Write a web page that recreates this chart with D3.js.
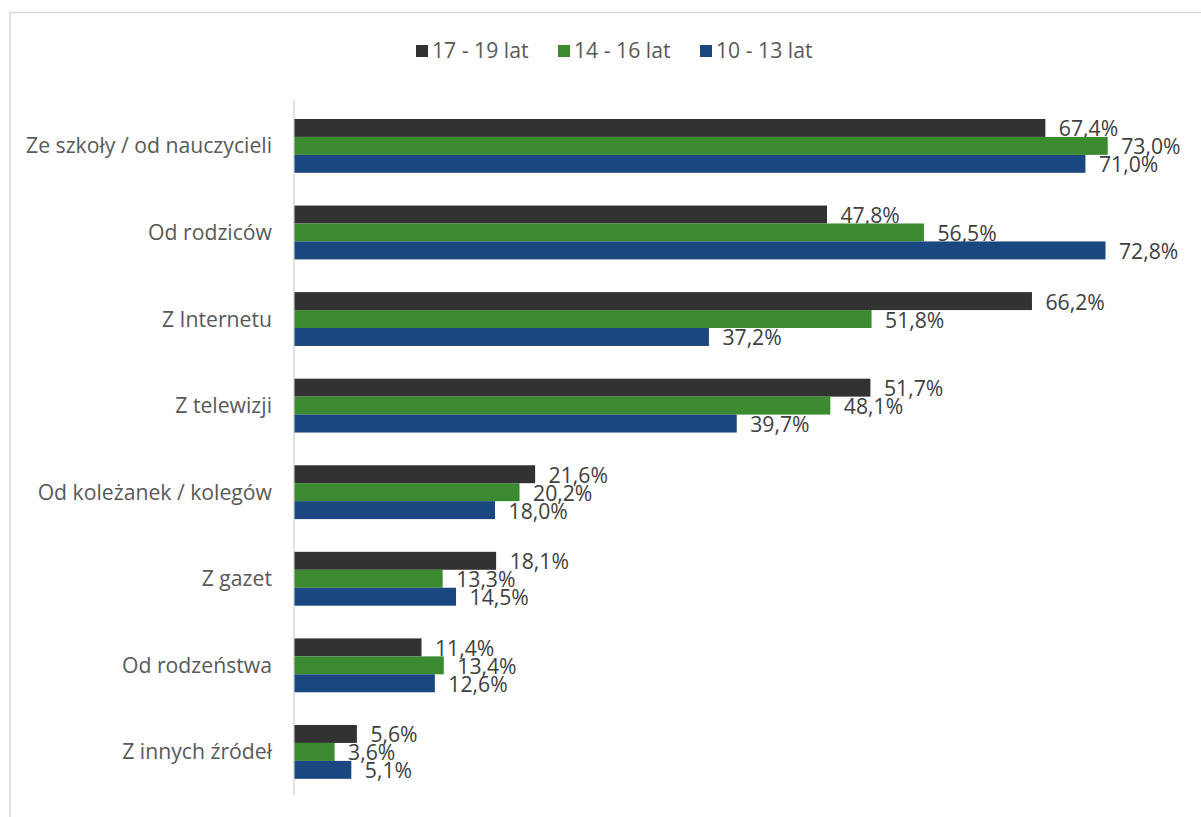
<!DOCTYPE html>
<html><head><meta charset="utf-8">
<script src="https://cdn.jsdelivr.net/npm/d3@7"></script>
<style>body{margin:0;background:#fff}svg{display:block}text{font-family:"Open Sans",sans-serif}</style>
</head><body>
<svg id="c" width="1201" height="817"></svg>
<script>
const categories = ["Ze szkoły / od nauczycieli","Od rodziców","Z Internetu","Z telewizji","Od koleżanek / kolegów","Z gazet","Od rodzeństwa","Z innych źródeł"];
const seriesNames = ["17 - 19 lat","14 - 16 lat","10 - 13 lat"];
const s1719 = [67.4,47.8,66.2,51.7,21.6,18.1,11.4,5.6];
const s1416 = [73.0,56.5,51.8,48.1,20.2,13.3,13.4,3.6];
const s1013 = [71.0,72.8,37.2,39.7,18.0,14.5,12.6,5.1];
const colors = ["#333233","#3b8a2f","#1a4780"];
const series = [s1719,s1416,s1013];
const FS = 21.2;

const svg = d3.select("#c");
svg.append("rect").attr("x",10).attr("y",12.5).attr("width",1200).attr("height",820)
  .attr("fill","#fff").attr("stroke","#d9d9d9").attr("stroke-width",1.5);

const x = d3.scaleLinear().domain([0,80]).range([294,294+80*11.14]);
const y = d3.scaleBand().domain(categories).range([102.6,795.2]).paddingInner(0.378).paddingOuter(0.189);
const sub = d3.scaleBand().domain([0,1,2]).range([0,y.bandwidth()]);

svg.append("line").attr("x1",294).attr("x2",294).attr("y1",100).attr("y2",795)
  .attr("stroke","#d9d9d9").attr("stroke-width",1.5);

series.forEach((vals,si)=>{
  const g = svg.append("g");
  g.selectAll("rect").data(vals).join("rect")
    .attr("x",x(0)+0.5).attr("y",(d,i)=>y(categories[i])+sub(si))
    .attr("width",d=>x(d)-x(0)).attr("height",sub.bandwidth())
    .attr("fill",colors[si]);
  g.selectAll("text").data(vals).join("text")
    .attr("x",d=>x(d)+14).attr("y",(d,i)=>y(categories[i])+sub(si)+sub.bandwidth()/2+8.5)
    .attr("fill","#404040").attr("font-size",FS)
    .text(d=>d.toFixed(1).replace(".",",")+"%");
});

svg.append("g").selectAll("text").data(categories).join("text")
  .attr("x",272).attr("y",d=>y(d)+y.bandwidth()/2+7.5)
  .attr("text-anchor","end").attr("fill","#595959").attr("font-size",FS)
  .text(d=>d);

const legX = [416,558,700];
const lg = svg.append("g");
seriesNames.forEach((n,i)=>{
  lg.append("rect").attr("x",legX[i]).attr("y",45).attr("width",12).attr("height",12).attr("fill",colors[i]);
  lg.append("text").attr("x",legX[i]+16).attr("y",58).attr("fill","#595959").attr("font-size",FS).text(n);
});
</script>
</body></html>
